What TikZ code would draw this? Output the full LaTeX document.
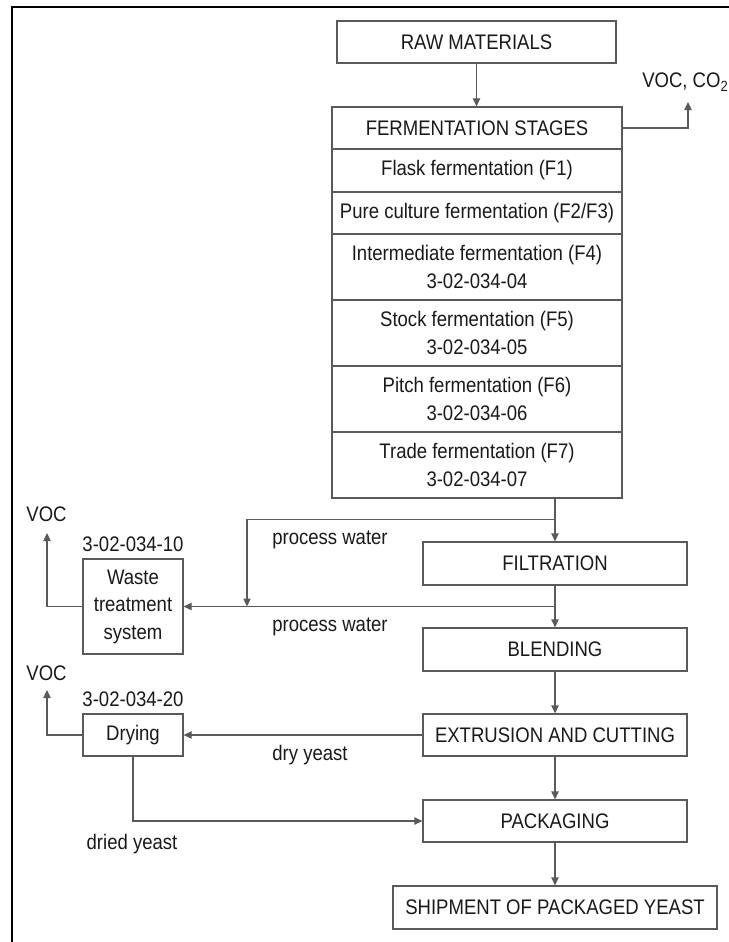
\documentclass[tikz,border=0pt]{standalone}
\usepackage{fontspec}
\setmainfont{Liberation Sans}[FakeStretch=0.88]
\usetikzlibrary{arrows.meta,calc}
\definecolor{ln}{RGB}{90,90,90}
\definecolor{tx}{RGB}{25,25,25}
\begin{document}
\begin{tikzpicture}[x=0.75pt,y=-0.75pt,
  txt/.style={text=tx,inner sep=0pt,align=center,font=\fontsize{15.8}{20.6}\selectfont},
  box/.style n args={2}{txt,draw=ln,line width=0.9pt,minimum width=0.75pt*#1,minimum height=0.75pt*#2},
  con/.style={draw=ln,line width=0.9pt},
  arr/.style={con,-{Triangle[length=6pt,width=5.5pt]}}]
\useasboundingbox (0,0) rectangle (728,942);
% outer frame
\draw[black,line width=1.6pt] (12,950) -- (12,7) -- (740,7);
% main column
\node[box={279}{42}] (raw) at (476.5,42) {RAW MATERIALS};
\node[box={290}{42}] (st) at (477,128) {FERMENTATION STAGES};
\node[box={290}{43}] (f1) at (477,170.5) {Flask fermentation (F1)};
\node[box={290}{42}] (f23) at (477,213) {Pure culture fermentation (F2/F3)};
\node[box={290}{66}] (f4) at (477,267) {Intermediate fermentation (F4)\\3-02-034-04};
\node[box={290}{66}] (f5) at (477,333) {Stock fermentation (F5)\\3-02-034-05};
\node[box={290}{66}] (f6) at (477,399) {Pitch fermentation (F6)\\3-02-034-06};
\node[box={290}{66}] (f7) at (477,465) {Trade fermentation (F7)\\3-02-034-07};
\node[box={264}{43}] (filt) at (555,563.5) {FILTRATION};
\node[box={264}{43}] (blend) at (555,649.5) {BLENDING};
\node[box={264}{42}] (extr) at (555,735) {EXTRUSION AND CUTTING};
\node[box={264}{42}] (pack) at (555,821) {PACKAGING};
\node[box={324}{43}] (ship) at (555,907.5) {SHIPMENT OF PACKAGED YEAST};
% side boxes
\node[box={100}{95}] (waste) at (133,606.5) {Waste\\treatment\\system};
\node[box={100}{42}] (dry) at (133,735) {Drying};
\node[txt] (wcode) at (133,544) {3-02-034-10};
\node[txt] (dcode) at (133,699) {3-02-034-20};
% emissions
\node[txt,anchor=west] (voc1) at (642,82) {VOC, CO\textsubscript{2}};
\node[txt] (voc2) at (46.5,514) {VOC};
\node[txt] (voc3) at (46.5,673) {VOC};
\coordinate (e1) at (688,102);
\coordinate (e2) at (47,533);
\coordinate (e3) at (47,690);
% labels
\node[txt] (pw1) at (330,540) {process water};
\node[txt] (pw2) at (330,627) {process water};
\node[txt] (dy) at (310,755) {dry yeast};
\node[txt] (ddy) at (132,844) {dried yeast};
% connectors
\draw[arr] (raw.south) -- (raw.south |- st.north);
\draw[arr] (st.east) -| (e1);
\draw[arr] (filt.north |- f7.south) -- (filt.north);
\coordinate (j1) at ($(filt.north |- f7.south)!0.48!(filt.north)$);
\coordinate (t1) at (247,0);
\draw[arr] (j1) -| (t1 |- waste.east);
\coordinate (j2) at ($(filt.south)!0.5!(blend.north)$);
\draw[arr] (j2) -- (waste.east |- j2);
\draw[arr] (filt.south) -- (blend.north);
\draw[arr] (blend.south) -- (extr.north);
\draw[arr] (extr.south) -- (pack.north);
\draw[arr] (pack.south) -- (ship.north);
\draw[arr] (extr.west) -- (dry.east);
\draw[arr] (dry.south) |- (pack.west);
\draw[arr] (waste.west) -| (e2);
\draw[arr] (dry.west) -| (e3);
\end{tikzpicture}
\end{document}
